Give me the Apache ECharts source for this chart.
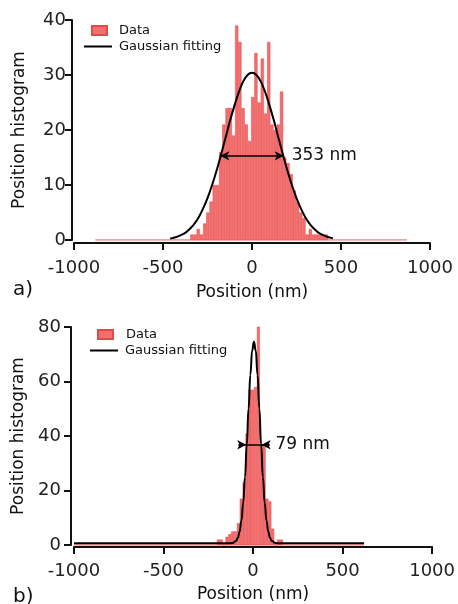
<!DOCTYPE html>
<html>
<head>
<meta charset="utf-8">
<script src="https://cdn.jsdelivr.net/npm/echarts@6/dist/echarts.min.js"></script>
<style>
html,body{margin:0;padding:0;background:#fff}
#chart{width:458px;height:604px}
</style>
</head>
<body>
<div id="chart"></div>
<script>
// panel a) histogram (bin centres in nm, counts)
var topBins = [-338,-320,-302,-284,-266,-248,-230,-212,-194,-176,-158,-140,-122,-104,-86,-68,-50,-32,-14,4,22,40,58,76,94,112,130,148,166,184,202,220,238,256,274,292,310,328,346,364,382,400,418];
var topCounts = [1,1,2,1,3,5,7,10,10,16,21,24,24,19,39,36,24,21,18,26,34,25,33,23,36,21,20,21,27,15,14,12,9,7,5,4,1,2,1,1,1,1,1];
var topRange = [-880, 870];
// gaussian fitting
var topFitX = [-460,-425,-400,-375,-350,-325,-300,-275,-250,-225,-200,-175,-150,-125,-100,-75,-50,-25,0,25,50,75,100,125,150,175,200,225,250,275,300,325,350,375,400,425,455];
var topFitY = [0.25,0.55,0.87,1.3,2.0,2.9,4.1,5.7,7.6,9.9,12.5,15.4,18.4,21.5,24.3,26.8,28.8,30.0,30.4,30.0,28.8,26.8,24.3,21.5,18.4,15.4,12.5,9.9,7.6,5.7,4.1,2.9,2.0,1.3,0.87,0.55,0.3];
var topFwhm = {text: '353 nm', y: 15.3, left: -178, right: 178};

// panel b)
var botBins = [-194,-178,-162,-146,-130,-114,-98,-82,-66,-50,-34,-18,-2,14,30,46,62,78,94,110,126,142,158];
var botCounts = [2,2,0,3,4,5,5,8,17,23,41,57,57,58,82,37,37,17,16,6,0,2,2];
var botRange = [-1000, 620];
var botFitX = [-1000,-145,-115,-95,-85,-75,-65,-55,-45,-35,-25,-15,-5,5,15,25,35,45,55,65,75,85,95,105,125,155,620];
var botFitY = [0.6,0.6,0.72,1.46,2.6,4.9,8.9,15.5,24.9,36.9,50.2,62.5,71.4,74.6,71.4,62.5,50.2,36.9,24.9,15.5,8.9,4.9,2.6,1.46,0.72,0.6,0.6];
var botFwhm = {text: '79 nm', y: 36.8, outLeft: -82, left: -38, right: 48, outRight: 92};

var xTicks = [-1000, -500, 0, 500, 1000];

function pairs(xs, ys) {
    return xs.map(function (x, i) { return [x, ys[i]]; });
}

var font = 'DejaVu Sans';
var barColor = '#f46e6e';
var barEdge = '#e54848';

function xAx(idx, offset, margin, gap) {
    return {
        gridIndex: idx, type: 'value', min: xTicks[0], max: xTicks[xTicks.length - 1], interval: 500,
        offset: offset,
        name: 'Position (nm)', nameLocation: 'middle', nameGap: gap,
        nameTextStyle: {fontFamily: font, fontSize: 17, color: '#111'},
        axisLine: {onZero: false, lineStyle: {color: '#111', width: 2}},
        axisTick: {length: 7, lineStyle: {color: '#111', width: 2}},
        axisLabel: {fontFamily: font, fontSize: 18, color: '#222', margin: margin,
            formatter: function (v) { return String(v); }},
        splitLine: {show: false}
    };
}
function yAx(idx, max, step, offset, margin) {
    return {
        gridIndex: idx, type: 'value', min: 0, max: max, interval: step,
        offset: offset,
        name: 'Position histogram', nameLocation: 'middle', nameGap: 44,
        nameTextStyle: {fontFamily: font, fontSize: 17, color: '#111'},
        axisLine: {show: true, onZero: false, lineStyle: {color: '#111', width: 2}},
        axisTick: {show: true, length: 7, lineStyle: {color: '#111', width: 2}},
        axisLabel: {fontFamily: font, fontSize: 18, color: '#222', margin: margin},
        splitLine: {show: false}
    };
}
function legendItem(name, left, top, w, h, pad) {
    return {
        data: [{name: name, icon: 'rect'}], left: left, top: top, padding: 0,
        itemWidth: w, itemHeight: h, selectedMode: false,
        textStyle: {fontFamily: font, fontSize: 13, color: '#111', padding: [0, 0, 0, pad]}
    };
}

var chart = echarts.init(document.getElementById('chart'));
chart.setOption({
    animation: false,
    backgroundColor: '#fff',
    title: [
        {text: 'a)', left: 8, top: 275, textStyle: {fontFamily: font, fontSize: 20, fontWeight: 'normal', color: '#111'}},
        {text: 'b)', left: 8, top: 582, textStyle: {fontFamily: font, fontSize: 20, fontWeight: 'normal', color: '#111'}}
    ],
    legend: [
        legendItem('Data', 91, 24, 15, 9, 7),
        legendItem('Gaussian fitting', 84, 40, 28, 2, 2),
        legendItem('Data ', 97, 328, 15, 9, 8),
        legendItem('Gaussian fitting ', 90, 344, 28, 2, 2)
    ],
    grid: [
        {left: 74, right: 28, top: 20, height: 220},
        {left: 74, right: 24, top: 327, height: 219}
    ],
    xAxis: [xAx(0, 3, 16, 41), xAx(1, 2, 15, 39)],
    yAxis: [yAx(0, 40, 10, 2, 6), yAx(1, 80, 20, 3, 10)],
    series: [
        {
            name: 'range a', type: 'line', xAxisIndex: 0, yAxisIndex: 0,
            data: topRange.map(function (x) { return [x, 0]; }),
            showSymbol: false, lineStyle: {color: '#f08080', width: 1.5}, z: 1
        },
        {
            name: 'Data', type: 'bar', xAxisIndex: 0, yAxisIndex: 0,
            data: pairs(topBins, topCounts), barWidth: 3.2,
            itemStyle: {color: barColor, borderColor: barEdge, borderWidth: 0.5}, z: 2
        },
        {
            name: 'Gaussian fitting', type: 'line', xAxisIndex: 0, yAxisIndex: 0,
            data: pairs(topFitX, topFitY), smooth: 0.3, showSymbol: false, symbol: 'none',
            lineStyle: {color: '#000', width: 2}, itemStyle: {color: '#000'}, z: 3,
            markLine: {
                silent: true, symbol: ['arrow', 'arrow'], symbolSize: [7, 9],
                lineStyle: {color: '#000', width: 1.5, type: 'solid'},
                label: {show: true, position: 'end', distance: 8, formatter: topFwhm.text,
                    fontFamily: font, fontSize: 17, color: '#111'},
                data: [[{coord: [topFwhm.left, topFwhm.y]}, {coord: [topFwhm.right, topFwhm.y]}]]
            }
        },
        {
            name: 'range b', type: 'line', xAxisIndex: 1, yAxisIndex: 1,
            data: botRange.map(function (x) { return [x, 0]; }),
            showSymbol: false, lineStyle: {color: '#f08080', width: 1.5}, z: 1
        },
        {
            name: 'Data ', type: 'bar', xAxisIndex: 1, yAxisIndex: 1,
            data: pairs(botBins, botCounts), barWidth: 2.9,
            itemStyle: {color: barColor, borderColor: barEdge, borderWidth: 0.5}, z: 2
        },
        {
            name: 'Gaussian fitting ', type: 'line', xAxisIndex: 1, yAxisIndex: 1,
            data: pairs(botFitX, botFitY), smooth: true, smoothMonotone: 'x', showSymbol: false, symbol: 'none',
            lineStyle: {color: '#000', width: 2}, itemStyle: {color: '#000'}, z: 3,
            markLine: {
                silent: true, symbol: ['none', 'arrow'], symbolSize: [7, 9],
                lineStyle: {color: '#000', width: 1.5, type: 'solid'},
                label: {show: false},
                data: [
                    [{coord: [botFwhm.outLeft, botFwhm.y]}, {coord: [botFwhm.left, botFwhm.y]}],
                    [{coord: [botFwhm.outRight, botFwhm.y]}, {coord: [botFwhm.right, botFwhm.y]}],
                    [{coord: [botFwhm.left, botFwhm.y], symbol: 'none'},
                     {coord: [botFwhm.outRight, botFwhm.y], symbol: 'none',
                      label: {show: true, position: 'end', distance: 6, formatter: botFwhm.text,
                        fontFamily: font, fontSize: 17, color: '#111'}}]
                ]
            }
        }
    ]
});
</script>
</body>
</html>
